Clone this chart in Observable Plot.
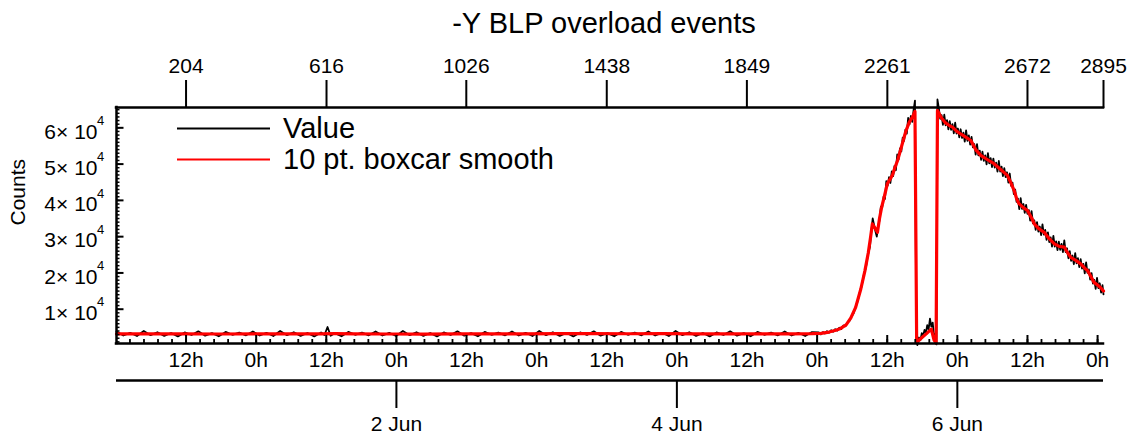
<!DOCTYPE html>
<html><head><meta charset="utf-8">
<script src="https://cdn.jsdelivr.net/npm/d3@7"></script>
<script src="https://cdn.jsdelivr.net/npm/@observablehq/plot@0.6"></script>
<style>
html,body{margin:0;padding:0;background:#fff;}
#chart{width:1137px;height:443px;}
</style></head><body><div id="chart"></div>
<script>
// ---------------- data ----------------
const title = "-Y BLP overload events";
const yLabel = "Counts";
const legendLabels = ["Value", "10 pt. boxcar smooth"];
const seriesColors = ["#000000", "#ff0000"];
const topTickIndex = [204, 616, 1026, 1438, 1849, 2261, 2672, 2895];
const yMajorTicks = [10000, 20000, 30000, 40000, 50000, 60000];
const dateTicks = ["2011-06-02", "2011-06-04", "2011-06-06"];
const indexRange = [0, 2895];
const countRange = [550, 65600];
const refIndex = 204, refTime = "2011-05-31T12:00Z", samplesPerDay = 411.33;

// [sample index, counts]
const valueSeries = [
[0,3850],[20,2750],[40,3500],[60,2600],[80,4000],[100,2850],[120,3650],[140,2650],[160,3450],[180,2500],
[200,3600],[220,2900],[240,3900],[260,2700],[280,3400],[300,2550],[320,3750],[340,2950],[360,3550],[380,2800],
[400,3850],[420,2750],[440,3500],[460,2600],[480,4000],[500,2850],[520,3650],[540,2650],[560,3450],[580,2500],
[600,3600],[610,2900],[619,5100],[628,2700],[640,3400],[660,2550],[680,3750],[700,2950],[720,3550],[740,2800],
[760,3850],[780,2750],[800,3500],[820,2600],[840,4000],[860,2850],[880,3650],[900,2650],[920,3450],[940,2500],
[960,3600],[980,2900],[1000,3900],[1020,2700],[1040,3400],[1060,2550],[1080,3750],[1100,2950],[1120,3550],[1140,2800],
[1160,3850],[1180,2750],[1200,3500],[1220,2600],[1240,4000],[1260,2850],[1280,3650],[1300,2650],[1320,3450],[1340,2500],
[1360,3600],[1380,2900],[1400,3900],[1420,2700],[1440,3400],[1460,2550],[1480,3750],[1500,2950],[1520,3550],[1540,2800],
[1560,3850],[1580,2750],[1600,3500],[1620,2600],[1640,4000],[1660,2850],[1680,3650],[1700,2650],[1720,3450],[1740,2500],
[1760,3600],[1780,2900],[1800,3900],[1820,2700],[1840,3400],[1860,2550],[1880,3750],[1900,2950],[1920,3550],[1940,2800],
[1960,3850],[1980,2750],[2000,3500],[2020,2600],[2040,3700],
[2060,3600],[2066,3050],[2072,3700],[2078,3300],[2084,3950],[2090,3500],[2096,4200],[2102,3800],[2108,4500],[2114,4100],
[2120,4900],[2126,4500],[2132,5500],[2138,5300],[2144,6300],[2150,6800],[2156,8000],[2162,8900],[2168,10700],[2174,12200],
[2180,14600],[2186,16500],[2192,19500],[2198,21400],[2204,25000],[2210,27200],[2214,31500],[2218,35000],[2222,33200],[2226,31500],
[2230,30000],[2234,32800],[2238,34500],
[2242,38300],[2246,38100],[2250,41050],[2254,40400],[2258,45300],[2262,44050],[2266,46400],[2270,44800],[2274,48000],[2278,46700],
[2282,49500],[2286,48300],[2290,52650],[2294,51300],[2298,54300],[2302,53500],[2306,57300],[2310,56400],[2314,59500],[2318,58400],
[2322,62700],[2326,60950],[2330,63250],[2334,61650],[2338,64950],[2342,67500],
[2346,1200],[2349,100],[2354,2200],[2358,1500],[2362,3400],[2366,2600],[2370,4300],[2374,3500],[2378,5600],[2382,4400],
[2386,7400],[2390,5200],[2394,6300],[2398,2500],[2402,3200],[2405,300],
[2408,67800],[2412,65400],[2416,62500],[2420,63500],[2424,60800],[2428,63600],[2432,60700],[2436,62100],[2440,59600],[2444,61850],
[2448,59450],[2452,61000],[2456,58500],[2460,61400],[2464,58400],[2468,59800],[2472,57350],[2476,59600],[2480,57200],[2484,58650],
[2488,56200],[2492,59300],[2496,56400],[2500,57900],[2504,55400],[2508,57500],[2512,54600],[2516,55500],[2520,52600],[2524,55500],
[2528,52400],[2532,53700],[2536,51150],[2540,53400],[2544,50900],[2548,52400],[2552,49950],[2556,53050],[2560,50200],[2564,51650],
[2568,49200],[2572,51500],[2576,49050],[2580,50400],[2584,47900],[2588,50850],[2592,47950],[2596,49300],[2600,46700],[2604,48900],
[2608,46400],[2612,47750],[2616,44900],[2620,47400],[2624,44000],[2628,44900],[2632,41700],[2636,43000],[2640,39600],[2644,40500],
[2648,37600],[2652,40600],[2656,37650],[2660,39000],[2664,36550],[2668,38750],[2672,36300],[2676,37300],[2680,34400],[2684,37050],
[2688,33650],[2692,34500],[2696,31900],[2700,34000],[2704,31400],[2708,32800],[2712,30400],[2716,33400],[2720,30550],[2724,31850],
[2728,29100],[2732,31150],[2736,28500],[2740,29800],[2744,27250],[2748,30200],[2752,27250],[2756,28700],[2760,26300],[2764,28650],
[2768,26350],[2772,28000],[2776,25750],[2780,29000],[2784,25750],[2788,26800],[2792,24050],[2796,26000],[2800,23350],[2804,24800],
[2808,22400],[2812,25450],[2816,22650],[2820,24050],[2824,21600],[2828,23800],[2832,21200],[2836,22500],[2840,19900],[2844,22900],
[2848,20000],[2852,21000],[2856,18150],[2860,19950],[2864,17050],[2868,18100],[2872,15600],[2876,18650],[2880,15800],[2884,17150],
[2888,14600],[2892,16650],[2895,14100]
];

const smoothSeries = [
[0,3180],[100,3200],[200,3180],[300,3170],[400,3200],[500,3180],[600,3220],[640,3260],[700,3200],[800,3170],
[900,3150],[1000,3180],[1100,3200],[1200,3230],[1300,3250],[1400,3260],[1500,3240],[1600,3250],[1700,3230],[1800,3200],
[1900,3180],[1980,3200],[2040,3260],[2066,3350],[2090,3700],[2110,4200],[2124,4700],[2140,5700],[2154,7600],[2168,10500],
[2183,15500],[2195,20500],[2205,25500],[2212,30000],[2217,33500],[2224,32500],[2232,31200],[2238,35000],[2244,38000],[2252,41000],
[2261,44600],[2270,46000],[2276,47000],[2283,49000],[2291,51000],[2300,54000],[2315,59000],[2325,61500],[2335,63000],[2342,64500],
[2347,800],[2360,2000],[2375,3200],[2390,4500],[2398,1500],[2404,700],
[2408,64800],[2418,63000],[2430,61500],[2437,61000],[2445,60500],[2452,60200],[2465,59000],[2476,58300],[2490,57500],[2506,56500],
[2520,54000],[2535,52400],[2555,51200],[2574,50100],[2590,48800],[2613,46900],[2625,44500],[2633,42700],[2640,40500],[2647,39100],
[2660,38000],[2672,37200],[2685,35000],[2692,33500],[2705,32200],[2721,31200],[2735,29500],[2751,28000],[2765,27300],[2780,27100],
[2790,25500],[2799,24300],[2815,23400],[2828,22500],[2840,21300],[2848,20700],[2858,19000],[2867,17400],[2880,16500],[2890,15600],
[2895,15000]
];

// ---------------- helpers ----------------
const refMs = Date.parse(refTime);
const t = i => new Date(refMs + (i - refIndex) / samplesPerDay * 86400000);
const x0 = t(indexRange[0]), x1 = t(indexRange[1]);
const hourMajor = d3.utcHour.every(12).range(x0, new Date(+x1 + 1));
const dayStart = d3.utcDay.floor(x0);
const hourMinor = d3.range(0, 80).map(k => new Date(+dayStart + k * 144 * 60000)).filter(d => d >= x0 && d <= x1);
const yMinor = d3.range(1000, countRange[1], 1000).filter(v => v >= countRange[0]);
const dates = dateTicks.map(s => new Date(s + "T00:00Z"));
const fmtDate = d3.utcFormat("%-d %b");
const frameStyle = {stroke: "black", strokeWidth: 2.5, strokeLinecap: "square"};

const chart = Plot.plot({
  width: 1137, height: 443,
  marginTop: 107, marginRight: 34, marginBottom: 100, marginLeft: 116,
  style: {fontFamily: '"Liberation Sans", Arial, Helvetica, sans-serif', fontSize: "21px", color: "black", background: "white", overflow: "visible"},
  x: {type: "utc", domain: [x0, x1], axis: null},
  y: {type: "linear", domain: countRange, axis: null},
  marks: [
    Plot.line(valueSeries, {x: d => t(d[0]), y: d => d[1], stroke: seriesColors[0], strokeWidth: 1.8}),
    Plot.line(smoothSeries, {x: d => t(d[0]), y: d => d[1], stroke: seriesColors[1], strokeWidth: 3.2}),
    Plot.ruleY([countRange[0]], frameStyle),
    Plot.ruleY([countRange[1]], frameStyle),
    Plot.ruleX([x0], frameStyle),
    // y ticks (inward)
    Plot.axisY(yMinor, {anchor: "left", tickSize: -3.5, tickFormat: () => "", strokeWidth: 1.5}),
    Plot.axisY(yMajorTicks, {anchor: "left", tickSize: -7.5, tickFormat: () => "", strokeWidth: 2}),
    Plot.text(yMajorTicks, {y: d => d, text: d => `${d / 10 ** Math.floor(Math.log10(d))}\u00d7 10`, frameAnchor: "left", textAnchor: "end", dx: -19, dy: 4, fontSize: 21}),
    Plot.text(yMajorTicks, {y: d => d, text: d => String(Math.floor(Math.log10(d))), frameAnchor: "left", textAnchor: "start", dx: -19.5, dy: -7, fontSize: 13}),
    Plot.text([yLabel], {frameAnchor: "left", rotate: -90, dx: -98, fontSize: 21}),
    // top index axis
    Plot.axisX(topTickIndex.map(t), {anchor: "top", tickSize: 28, tickFormat: () => "", strokeWidth: 2}),
    Plot.text(topTickIndex, {x: d => t(d), text: d => String(d), frameAnchor: "top", lineAnchor: "middle", dy: -41, fontSize: 21}),
    // bottom hour axis (inward ticks)
    Plot.axisX(hourMinor, {anchor: "bottom", tickSize: -4, tickFormat: () => "", strokeWidth: 1.8}),
    Plot.axisX(hourMajor, {anchor: "bottom", tickSize: -8, tickFormat: () => "", strokeWidth: 2}),
    Plot.text(hourMajor, {x: d => d, text: d => d.getUTCHours() + "h", frameAnchor: "bottom", lineAnchor: "middle", dy: 17, fontSize: 21}),
    // date axis
    Plot.ruleY([countRange[0]], {...frameStyle, strokeLinecap: "butt", dy: 37}),
    Plot.axisX(dates, {anchor: "bottom", tickSize: 28, tickFormat: () => "", strokeWidth: 2, dy: 37}),
    Plot.text(dates, {x: d => d, text: d => fmtDate(d), frameAnchor: "bottom", lineAnchor: "middle", dy: 81, fontSize: 21}),
    // title
    Plot.text([title], {frameAnchor: "top", lineAnchor: "middle", dy: -84, dx: -6, fontSize: 29})
  ]
});

// legend
const svg = d3.select(chart);
const lg = svg.append("g").attr("font-family", '"Liberation Sans", Arial, sans-serif').attr("font-size", 29).attr("text-anchor", "start");
legendLabels.forEach((lab, i) => {
  const yy = 128.5 + i * 31;
  lg.append("line").attr("x1", 177).attr("x2", 270).attr("y1", yy).attr("y2", yy)
    .attr("stroke", seriesColors[i]).attr("stroke-width", 2.2);
  lg.append("text").attr("x", 283).attr("y", yy + 9.5).attr("fill", "black").attr("text-anchor", "start").text(lab);
});

document.getElementById("chart").appendChild(chart);
</script></body></html>
